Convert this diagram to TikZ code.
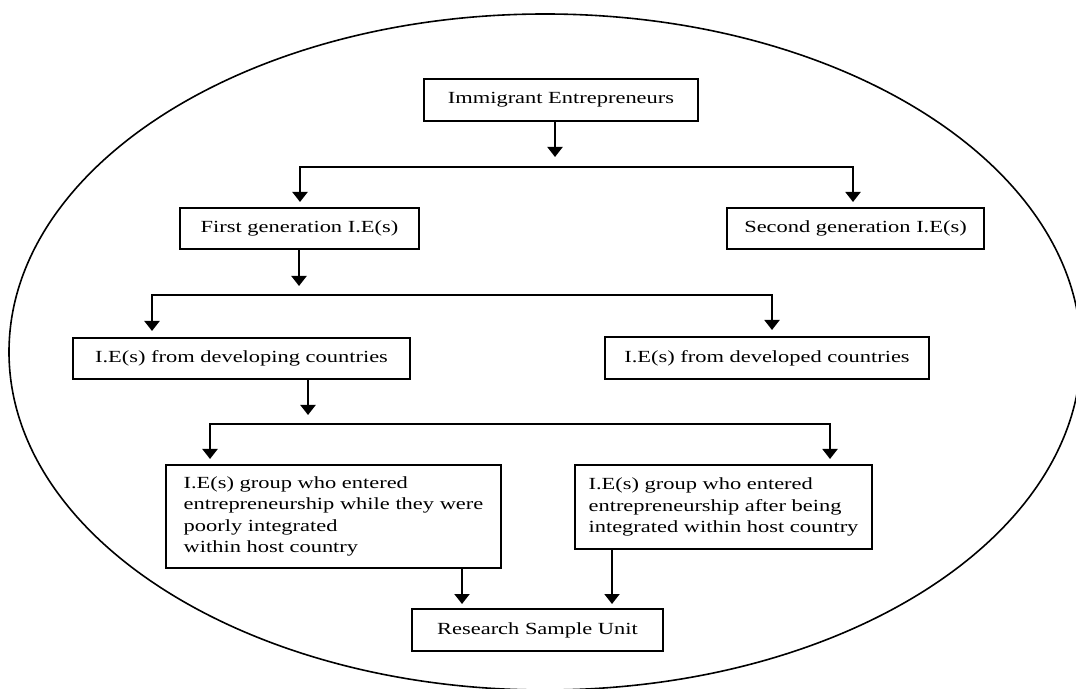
\documentclass[tikz,border=0pt]{standalone}
\usepackage{fontspec}
\setmainfont{Liberation Serif}[FakeStretch=1.32]
\usetikzlibrary{arrows.meta, positioning}

\begin{document}
\begin{tikzpicture}[x=0.5pt, y=-0.5pt]
        \tikzstyle{every node}+=[inner sep=0pt, font=\fontsize{8.5}{10.8}\selectfont]
        \tikzstyle{box}=[draw=black, line width=1pt, align=left]
        \tikzstyle{arr}=[black, line width=1pt, -{Triangle[length=5pt, width=7.5pt]}]
        \useasboundingbox (0,0) rectangle (1076,689);
        \begin{scope}
        \clip (0,0) rectangle (1076,689);
        \draw [black, line width=0.8pt] (545,352) ellipse [x radius=268pt, y radius=169pt];
        \end{scope}
        \node [box, minimum width=137pt, minimum height=21pt] (imm) at (561,100) {Immigrant Entrepreneurs};
        \node [box, minimum width=119.5pt, minimum height=20.5pt] (first) at (299.5,228.5) {First generation I.E(s)};
        \node [box, minimum width=128.5pt, minimum height=20.5pt] (second) at (855.5,228.5) {Second generation I.E(s)};
        \node [box, minimum width=168.5pt, minimum height=20.5pt] (devg) at (241.5,358.5) {I.E(s) from developing countries};
        \node [box, minimum width=162pt, minimum height=21pt] (devd) at (767,358) {I.E(s) from developed countries};
        \node [box, minimum width=167.5pt, minimum height=51.5pt] (poor) at (333.5,516.5) {I.E(s) group who entered\\entrepreneurship while they were\\poorly integrated\\within host country};
        \node [box, minimum width=148.5pt, minimum height=42pt] (integ) at (723.5,507) {I.E(s) group who entered\\entrepreneurship after being\\integrated within host country};
        \node [box, minimum width=125.5pt, minimum height=21pt] (rsu) at (537.5,630) {Research Sample Unit};
        % split points
        \coordinate (t1) at (555,157);
        \coordinate (b1w) at (300,167);
        \coordinate (b1e) at (853,167);
        \coordinate (t2) at (299,286);
        \coordinate (b2w) at (152,295);
        \coordinate (b2e) at (772,295);
        \coordinate (t3) at (308,415);
        \coordinate (b3w) at (210,424);
        \coordinate (b3e) at (830,424);
        \coordinate (j1) at (462,604);
        \coordinate (j2) at (612,604);
        % level 1
        \draw [arr] (imm.south -| t1) -- (t1);
        \draw [arr, shorten >=2.5pt] (b1e) -- (b1w) -- (b1w |- first.north);
        \draw [arr, shorten >=2.5pt] (b1w) -- (b1e) -- (b1e |- second.north);
        % level 2
        \draw [arr] (first.south -| t2) -- (t2);
        \draw [arr, shorten >=3pt] (b2e) -- (b2w) -- (b2w |- devg.north);
        \draw [arr, shorten >=3pt] (b2w) -- (b2e) -- (b2e |- devd.north);
        % level 3
        \draw [arr] (devg.south -| t3) -- (t3);
        \draw [arr, shorten >=2.5pt] (b3e) -- (b3w) -- (b3w |- poor.north);
        \draw [arr, shorten >=2.5pt] (b3w) -- (b3e) -- (b3e |- integ.north);
        % sample unit
        \draw [arr] (poor.south -| j1) -- (j1);
        \draw [arr] (integ.south -| j2) -- (j2);
\end{tikzpicture}
\end{document}
